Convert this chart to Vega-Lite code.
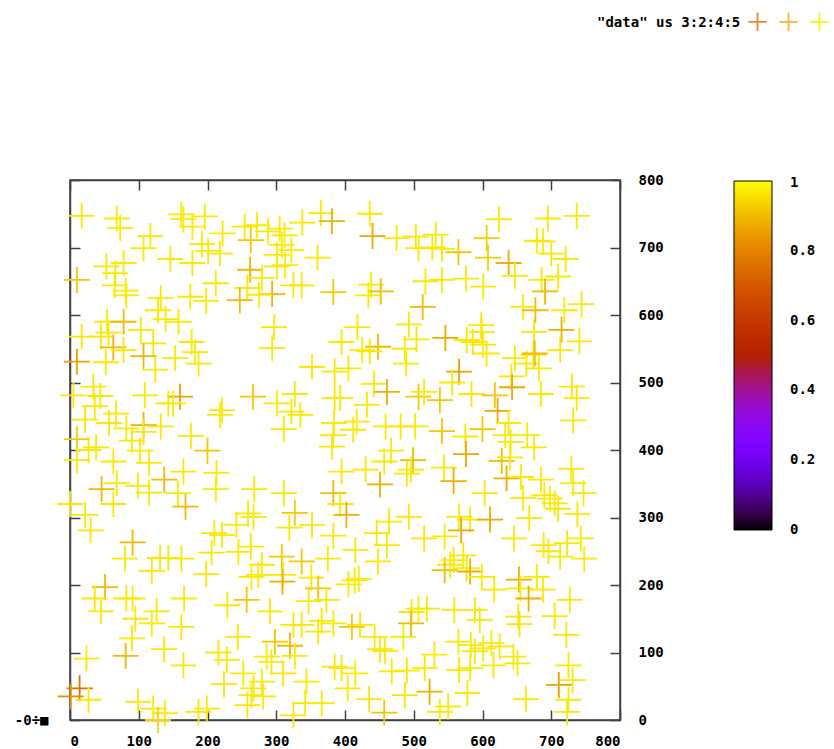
{
"$schema":"https://vega.github.io/schema/vega-lite/v6.json",
"width":550,"height":540,
"autosize":"none",
"padding":{"left":70,"top":180,"right":214,"bottom":29},
"background":"white",
"config":{"view":{"stroke":"#404040","strokeWidth":1.5},"font":"DejaVu Sans Mono",
"axis":{"labelFont":"DejaVu Sans Mono","labelFontSize":14,"labelFontWeight":"bold","labelColor":"#000","domainColor":"#404040","domainWidth":1.5,"tickColor":"#404040","tickWidth":1.5,"grid":false,"title":null},
"legend":{"labelFont":"DejaVu Sans Mono","titleFont":"DejaVu Sans Mono"}},
"data":{"values":[
{"x":17,"y":747,"c":0.97},{"x":68,"y":743,"c":0.97},{"x":73,"y":729,"c":0.97},{"x":162,"y":749,"c":0.97},{"x":165,"y":742,"c":0.97},{"x":196,"y":746,"c":0.97},{"x":178,"y":731,"c":0.97},{"x":117,"y":717,"c":0.97},{"x":107,"y":699,"c":0.97},{"x":192,"y":705,"c":0.97},{"x":201,"y":695,"c":0.97},{"x":218,"y":691,"c":0.97},{"x":222,"y":721,"c":0.97},{"x":254,"y":731,"c":0.97},{"x":272,"y":733,"c":0.97},{"x":263,"y":711,"c":0.92},{"x":288,"y":724,"c":0.97},{"x":305,"y":728,"c":0.97},{"x":312,"y":718,"c":0.97},{"x":308,"y":704,"c":0.97},{"x":322,"y":696,"c":0.97},{"x":301,"y":689,"c":0.97},{"x":338,"y":737,"c":0.97},{"x":365,"y":751,"c":0.97},{"x":381,"y":739,"c":0.88},{"x":360,"y":685,"c":0.97},{"x":146,"y":683,"c":0.97},{"x":178,"y":677,"c":0.97},{"x":53,"y":672,"c":0.97},{"x":78,"y":677,"c":0.97},{"x":66,"y":662,"c":0.97},{"x":10,"y":652,"c":0.92},{"x":65,"y":644,"c":0.97},{"x":81,"y":636,"c":0.97},{"x":82,"y":629,"c":0.97},{"x":212,"y":647,"c":0.97},{"x":262,"y":667,"c":0.89},{"x":279,"y":655,"c":0.97},{"x":301,"y":672,"c":0.97},{"x":313,"y":674,"c":0.97},{"x":325,"y":644,"c":0.97},{"x":337,"y":644,"c":0.97},{"x":294,"y":631,"c":0.89},{"x":275,"y":630,"c":0.97},{"x":258,"y":640,"c":0.97},{"x":247,"y":622,"c":0.9},{"x":198,"y":621,"c":0.97},{"x":175,"y":627,"c":0.97},{"x":132,"y":625,"c":0.97},{"x":128,"y":607,"c":0.97},{"x":139,"y":594,"c":0.97},{"x":158,"y":590,"c":0.97},{"x":383,"y":634,"c":0.93},{"x":54,"y":590,"c":0.97},{"x":78,"y":590,"c":0.9},{"x":56,"y":574,"c":0.97},{"x":17,"y":568,"c":0.97},{"x":45,"y":568,"c":0.97},{"x":63,"y":552,"c":0.89},{"x":78,"y":548,"c":0.97},{"x":103,"y":578,"c":0.97},{"x":121,"y":558,"c":0.97},{"x":107,"y":539,"c":0.89},{"x":10,"y":531,"c":0.86},{"x":52,"y":530,"c":0.97},{"x":177,"y":560,"c":0.97},{"x":182,"y":545,"c":0.97},{"x":187,"y":528,"c":0.97},{"x":153,"y":536,"c":0.97},{"x":297,"y":582,"c":0.97},{"x":294,"y":551,"c":0.97},{"x":352,"y":523,"c":0.97},{"x":385,"y":516,"c":0.97},{"x":395,"y":560,"c":0.97},{"x":124,"y":519,"c":0.97},
{"x":436,"y":750,"c":0.97},{"x":440,"y":717,"c":0.87},{"x":475,"y":714,"c":0.97},{"x":503,"y":716,"c":0.97},{"x":532,"y":719,"c":0.97},{"x":507,"y":699,"c":0.97},{"x":527,"y":700,"c":0.97},{"x":541,"y":698,"c":0.97},{"x":565,"y":693,"c":0.92},{"x":606,"y":714,"c":0.93},{"x":608,"y":685,"c":0.93},{"x":624,"y":742,"c":0.97},{"x":638,"y":677,"c":0.88},{"x":647,"y":658,"c":0.97},{"x":695,"y":743,"c":0.97},{"x":737,"y":747,"c":0.97},{"x":679,"y":710,"c":0.97},{"x":688,"y":709,"c":0.97},{"x":700,"y":691,"c":0.97},{"x":721,"y":683,"c":0.97},{"x":710,"y":657,"c":0.97},{"x":686,"y":652,"c":0.97},{"x":691,"y":635,"c":0.9},{"x":659,"y":612,"c":0.97},{"x":677,"y":607,"c":0.9},{"x":719,"y":607,"c":0.97},{"x":744,"y":616,"c":0.97},{"x":715,"y":578,"c":0.88},{"x":741,"y":561,"c":0.97},{"x":713,"y":548,"c":0.97},{"x":675,"y":575,"c":0.97},{"x":674,"y":541,"c":0.97},{"x":601,"y":642,"c":0.97},{"x":576,"y":654,"c":0.97},{"x":541,"y":652,"c":0.97},{"x":517,"y":650,"c":0.97},{"x":513,"y":612,"c":0.9},{"x":438,"y":645,"c":0.97},{"x":452,"y":635,"c":0.9},{"x":434,"y":629,"c":0.97},{"x":418,"y":582,"c":0.97},{"x":493,"y":586,"c":0.97},{"x":504,"y":564,"c":0.97},{"x":487,"y":550,"c":0.97},{"x":546,"y":566,"c":0.87},{"x":577,"y":563,"c":0.97},{"x":598,"y":585,"c":0.97},{"x":599,"y":575,"c":0.97},{"x":601,"y":556,"c":0.97},{"x":606,"y":543,"c":0.97},{"x":586,"y":560,"c":0.97},{"x":425,"y":548,"c":0.97},{"x":448,"y":553,"c":0.9},{"x":436,"y":546,"c":0.97},{"x":489,"y":528,"c":0.97},{"x":405,"y":521,"c":0.97},{"x":566,"y":516,"c":0.86},{"x":647,"y":536,"c":0.97},{"x":664,"y":528,"c":0.97},{"x":676,"y":543,"c":0.9},{"x":682,"y":521,"c":0.97},
{"x":34,"y":494,"c":0.97},{"x":44,"y":480,"c":0.97},{"x":5,"y":481,"c":0.97},{"x":109,"y":481,"c":0.97},{"x":160,"y":479,"c":0.86},{"x":143,"y":469,"c":0.97},{"x":150,"y":469,"c":0.97},{"x":22,"y":445,"c":0.97},{"x":36,"y":465,"c":0.97},{"x":67,"y":454,"c":0.97},{"x":57,"y":440,"c":0.97},{"x":82,"y":432,"c":0.97},{"x":107,"y":437,"c":0.88},{"x":107,"y":427,"c":0.97},{"x":132,"y":435,"c":0.97},{"x":90,"y":414,"c":0.97},{"x":10,"y":416,"c":0.93},{"x":10,"y":385,"c":0.97},{"x":27,"y":400,"c":0.97},{"x":38,"y":404,"c":0.97},{"x":63,"y":383,"c":0.97},{"x":102,"y":399,"c":0.97},{"x":115,"y":381,"c":0.97},{"x":176,"y":421,"c":0.97},{"x":200,"y":399,"c":0.92},{"x":221,"y":459,"c":0.97},{"x":218,"y":452,"c":0.97},{"x":266,"y":479,"c":0.92},{"x":301,"y":469,"c":0.97},{"x":327,"y":483,"c":0.97},{"x":322,"y":457,"c":0.97},{"x":335,"y":452,"c":0.97},{"x":311,"y":431,"c":0.97},{"x":385,"y":477,"c":0.97},{"x":384,"y":440,"c":0.97},{"x":383,"y":422,"c":0.97},{"x":381,"y":405,"c":0.97},{"x":395,"y":368,"c":0.97},{"x":383,"y":336,"c":0.9},{"x":393,"y":320,"c":0.97},{"x":165,"y":368,"c":0.97},{"x":213,"y":366,"c":0.97},{"x":212,"y":342,"c":0.97},{"x":137,"y":356,"c":0.9},{"x":157,"y":336,"c":0.97},{"x":168,"y":316,"c":0.9},{"x":99,"y":347,"c":0.97},{"x":115,"y":337,"c":0.97},{"x":68,"y":351,"c":0.97},{"x":46,"y":342,"c":0.9},{"x":63,"y":320,"c":0.97},{"x":0,"y":320,"c":0.97},{"x":22,"y":304,"c":0.97},{"x":30,"y":281,"c":0.97},{"x":268,"y":342,"c":0.97},{"x":311,"y":336,"c":0.97},{"x":259,"y":306,"c":0.97},{"x":267,"y":301,"c":0.97},{"x":242,"y":289,"c":0.97},{"x":327,"y":307,"c":0.92},{"x":319,"y":285,"c":0.97},{"x":352,"y":289,"c":0.97},{"x":210,"y":277,"c":0.97},{"x":221,"y":274,"c":0.97},{"x":91,"y":263,"c":0.9},{"x":263,"y":257,"c":0.97},{"x":383,"y":273,"c":0.97},
{"x":642,"y":509,"c":0.97},{"x":442,"y":498,"c":0.97},{"x":461,"y":486,"c":0.88},{"x":393,"y":477,"c":0.97},{"x":432,"y":467,"c":0.97},{"x":507,"y":479,"c":0.92},{"x":515,"y":486,"c":0.97},{"x":538,"y":474,"c":0.92},{"x":556,"y":500,"c":0.97},{"x":584,"y":483,"c":0.97},{"x":618,"y":481,"c":0.92},{"x":643,"y":493,"c":0.87},{"x":685,"y":483,"c":0.97},{"x":730,"y":494,"c":0.97},{"x":737,"y":477,"c":0.97},{"x":622,"y":458,"c":0.87},{"x":638,"y":440,"c":0.97},{"x":732,"y":444,"c":0.97},{"x":417,"y":442,"c":0.97},{"x":412,"y":430,"c":0.97},{"x":459,"y":435,"c":0.97},{"x":481,"y":435,"c":0.97},{"x":502,"y":435,"c":0.97},{"x":541,"y":428,"c":0.92},{"x":575,"y":420,"c":0.97},{"x":600,"y":431,"c":0.92},{"x":633,"y":422,"c":0.97},{"x":641,"y":412,"c":0.97},{"x":665,"y":422,"c":0.97},{"x":675,"y":404,"c":0.97},{"x":467,"y":399,"c":0.97},{"x":457,"y":383,"c":0.97},{"x":499,"y":385,"c":0.9},{"x":496,"y":371,"c":0.97},{"x":576,"y":394,"c":0.87},{"x":628,"y":384,"c":0.9},{"x":640,"y":389,"c":0.97},{"x":430,"y":371,"c":0.97},{"x":490,"y":365,"c":0.97},{"x":451,"y":349,"c":0.88},{"x":544,"y":374,"c":0.97},{"x":558,"y":354,"c":0.88},{"x":635,"y":358,"c":0.88},{"x":656,"y":360,"c":0.97},{"x":685,"y":356,"c":0.97},{"x":729,"y":372,"c":0.97},{"x":732,"y":351,"c":0.97},{"x":747,"y":336,"c":0.97},{"x":603,"y":336,"c":0.97},{"x":659,"y":329,"c":0.97},{"x":690,"y":333,"c":0.97},{"x":698,"y":328,"c":0.97},{"x":705,"y":321,"c":0.97},{"x":710,"y":313,"c":0.97},{"x":738,"y":305,"c":0.97},{"x":493,"y":301,"c":0.97},{"x":402,"y":304,"c":0.88},{"x":464,"y":294,"c":0.97},{"x":446,"y":277,"c":0.97},{"x":461,"y":259,"c":0.97},{"x":566,"y":301,"c":0.97},{"x":582,"y":297,"c":0.97},{"x":611,"y":297,"c":0.87},{"x":569,"y":281,"c":0.87},{"x":515,"y":269,"c":0.97},{"x":545,"y":272,"c":0.97},{"x":668,"y":299,"c":0.97},{"x":646,"y":269,"c":0.97},{"x":689,"y":259,"c":0.97},{"x":723,"y":262,"c":0.97},{"x":743,"y":269,"c":0.97},
{"x":80,"y":239,"c":0.97},{"x":119,"y":221,"c":0.97},{"x":131,"y":240,"c":0.97},{"x":143,"y":240,"c":0.97},{"x":162,"y":239,"c":0.97},{"x":206,"y":248,"c":0.97},{"x":198,"y":216,"c":0.97},{"x":245,"y":249,"c":0.97},{"x":264,"y":212,"c":0.97},{"x":279,"y":230,"c":0.97},{"x":274,"y":215,"c":0.97},{"x":308,"y":242,"c":0.92},{"x":337,"y":235,"c":0.92},{"x":310,"y":215,"c":0.97},{"x":309,"y":205,"c":0.88},{"x":351,"y":211,"c":0.97},{"x":375,"y":239,"c":0.97},{"x":51,"y":197,"c":0.9},{"x":36,"y":180,"c":0.97},{"x":45,"y":161,"c":0.97},{"x":82,"y":180,"c":0.97},{"x":91,"y":180,"c":0.97},{"x":166,"y":180,"c":0.97},{"x":95,"y":150,"c":0.97},{"x":126,"y":161,"c":0.97},{"x":119,"y":143,"c":0.97},{"x":162,"y":138,"c":0.97},{"x":229,"y":170,"c":0.97},{"x":257,"y":178,"c":0.92},{"x":291,"y":161,"c":0.97},{"x":347,"y":176,"c":0.97},{"x":361,"y":195,"c":0.92},{"x":373,"y":178,"c":0.97},{"x":325,"y":141,"c":0.97},{"x":337,"y":141,"c":0.97},{"x":366,"y":147,"c":0.97},{"x":383,"y":143,"c":0.97},{"x":361,"y":131,"c":0.97},{"x":244,"y":123,"c":0.97},{"x":298,"y":116,"c":0.92},{"x":320,"y":110,"c":0.9},{"x":327,"y":95,"c":0.97},{"x":286,"y":94,"c":0.97},{"x":293,"y":86,"c":0.97},{"x":310,"y":69,"c":0.97},{"x":344,"y":57,"c":0.97},{"x":90,"y":121,"c":0.97},{"x":81,"y":95,"c":0.9},{"x":137,"y":105,"c":0.97},{"x":165,"y":81,"c":0.97},{"x":216,"y":100,"c":0.97},{"x":228,"y":89,"c":0.97},{"x":252,"y":69,"c":0.97},{"x":224,"y":53,"c":0.97},{"x":279,"y":57,"c":0.97},{"x":267,"y":47,"c":0.97},{"x":264,"y":37,"c":0.97},{"x":281,"y":35,"c":0.97},{"x":258,"y":22,"c":0.97},{"x":24,"y":91,"c":0.97},{"x":14,"y":47,"c":0.76},{"x":1,"y":35,"c":0.82},{"x":27,"y":30,"c":0.97},{"x":99,"y":27,"c":0.97},{"x":121,"y":17,"c":0.97},{"x":138,"y":10,"c":0.97},{"x":128,"y":0,"c":0.94},{"x":187,"y":12,"c":0.97},{"x":199,"y":17,"c":0.97},{"x":325,"y":7,"c":0.97},{"x":342,"y":25,"c":0.97},{"x":366,"y":25,"c":0.97},{"x":385,"y":79,"c":0.97},
{"x":415,"y":252,"c":0.97},{"x":448,"y":235,"c":0.97},{"x":414,"y":207,"c":0.97},{"x":405,"y":201,"c":0.97},{"x":420,"y":209,"c":0.97},{"x":553,"y":230,"c":0.97},{"x":545,"y":222,"c":0.9},{"x":558,"y":237,"c":0.97},{"x":572,"y":244,"c":0.97},{"x":577,"y":225,"c":0.97},{"x":582,"y":220,"c":0.88},{"x":599,"y":212,"c":0.97},{"x":617,"y":193,"c":0.97},{"x":653,"y":208,"c":0.88},{"x":655,"y":195,"c":0.97},{"x":667,"y":180,"c":0.88},{"x":679,"y":212,"c":0.97},{"x":688,"y":193,"c":0.97},{"x":696,"y":250,"c":0.97},{"x":713,"y":242,"c":0.97},{"x":748,"y":239,"c":0.97},{"x":727,"y":178,"c":0.97},{"x":705,"y":154,"c":0.97},{"x":722,"y":126,"c":0.97},{"x":652,"y":153,"c":0.97},{"x":654,"y":142,"c":0.97},{"x":507,"y":165,"c":0.97},{"x":519,"y":165,"c":0.97},{"x":497,"y":160,"c":0.97},{"x":496,"y":143,"c":0.9},{"x":485,"y":123,"c":0.97},{"x":559,"y":163,"c":0.97},{"x":589,"y":163,"c":0.97},{"x":596,"y":148,"c":0.97},{"x":422,"y":141,"c":0.97},{"x":410,"y":138,"c":0.92},{"x":443,"y":123,"c":0.97},{"x":451,"y":105,"c":0.97},{"x":458,"y":102,"c":0.97},{"x":565,"y":116,"c":0.97},{"x":583,"y":111,"c":0.97},{"x":589,"y":102,"c":0.97},{"x":601,"y":106,"c":0.97},{"x":613,"y":114,"c":0.97},{"x":625,"y":109,"c":0.97},{"x":645,"y":94,"c":0.97},{"x":651,"y":84,"c":0.97},{"x":616,"y":81,"c":0.97},{"x":582,"y":77,"c":0.97},{"x":566,"y":74,"c":0.97},{"x":530,"y":97,"c":0.97},{"x":516,"y":77,"c":0.97},{"x":490,"y":73,"c":0.97},{"x":468,"y":72,"c":0.97},{"x":415,"y":69,"c":0.97},{"x":395,"y":77,"c":0.97},{"x":404,"y":47,"c":0.97},{"x":435,"y":31,"c":0.97},{"x":487,"y":37,"c":0.97},{"x":523,"y":42,"c":0.88},{"x":578,"y":40,"c":0.97},{"x":457,"y":11,"c":0.92},{"x":538,"y":12,"c":0.97},{"x":550,"y":20,"c":0.97},{"x":663,"y":31,"c":0.97},{"x":711,"y":52,"c":0.86},{"x":731,"y":59,"c":0.97},{"x":725,"y":81,"c":0.97},{"x":723,"y":12,"c":0.97},{"x":725,"y":30,"c":0.97}
]},
"resolve":{"axis":{"x":"independent","y":"independent"}},
"layer":[
{"mark":{"type":"point","shape":"M-1,0L1,0M0,-1L0,1","filled":false,"size":676,"strokeWidth":1.8,"opacity":1},
"encoding":{
"x":{"field":"x","type":"quantitative","scale":{"domain":[0,800],"nice":false,"zero":false},"axis":{"orient":"bottom","values":[0,100,200,300,400,500,600,700,800],"tickSize":-10,"labelPadding":24}},
"y":{"field":"y","type":"quantitative","scale":{"domain":[0,800],"nice":false,"zero":false},"axis":{"orient":"right","values":[0,100,200,300,400,500,600,700,800],"tickSize":-10,"labelPadding":28,"labelAlign":"left"}},
"color":{"field":"c","type":"quantitative","scale":{"domain":[0,0.05,0.1,0.15,0.2,0.25,0.3,0.35,0.4,0.45,0.5,0.55,0.6,0.65,0.7,0.75,0.8,0.85,0.9,0.95,1],"range":["#000000","#39004f","#510096","#6301ce","#7202f2","#8004ff","#8c07f2","#970bce","#a11096","#ab174f","#b42000","#bd2a00","#c63700","#ce4600","#d55700","#dd6c00","#e48300","#eb9d00","#f2ba00","#f9db00","#ffff00"],"interpolate":"rgb"},
"legend":{"orient":"none","legendX":664,"legendY":1,"title":null,"direction":"vertical","gradientLength":349,"gradientThickness":38,"gradientStrokeColor":"#000","gradientStrokeWidth":1,"values":[0.0005,0.2,0.4,0.6,0.8,0.993],"labelExpr":"datum.value < 0.01 ? '0' : datum.value > 0.99 ? '1' : format(datum.value, '.1f')","labelOffset":18,"labelBaseline":"middle","labelFont":"DejaVu Sans Mono","labelFontSize":14,"labelFontWeight":"bold","labelColor":"#000","labelOverlap":false}}
}},
{"mark":{"type":"point","opacity":0},
"encoding":{
"x":{"field":"x","type":"quantitative","scale":{"domain":[0,800],"nice":false,"zero":false},"axis":{"orient":"top","values":[0,100,200,300,400,500,600,700,800],"tickSize":-10,"labels":false}},
"y":{"field":"y","type":"quantitative","scale":{"domain":[0,800],"nice":false,"zero":false},"axis":{"orient":"left","values":[0,100,200,300,400,500,600,700,800],"tickSize":-10,"labelPadding":32,"labelExpr":"datum.value == 0 ? '-0÷■' : ''"}}
}},
{"data":{"values":[{"k":"a"},{"k":"b"},{"k":"c"}]},
"mark":{"type":"point","filled":false,"opacity":0},
"encoding":{"stroke":{"field":"k","type":"nominal","scale":{"range":["#e8872d","#f5b53a","#fff01c"]},
"legend":{"orient":"none","legendX":527,"legendY":-169,"title":"\"data\" us 3:2:4:5","titleOrient":"left","titleFont":"DejaVu Sans Mono","titleFontSize":14,"titleFontWeight":"bold","titleColor":"#000","titlePadding":6,"direction":"horizontal","labelExpr":"''","symbolType":"M-1,0L1,0M0,-1L0,1","symbolSize":340,"symbolStrokeWidth":1.8,"symbolOpacity":1,"columnPadding":3,"labelOffset":4}}}
}
]
}
